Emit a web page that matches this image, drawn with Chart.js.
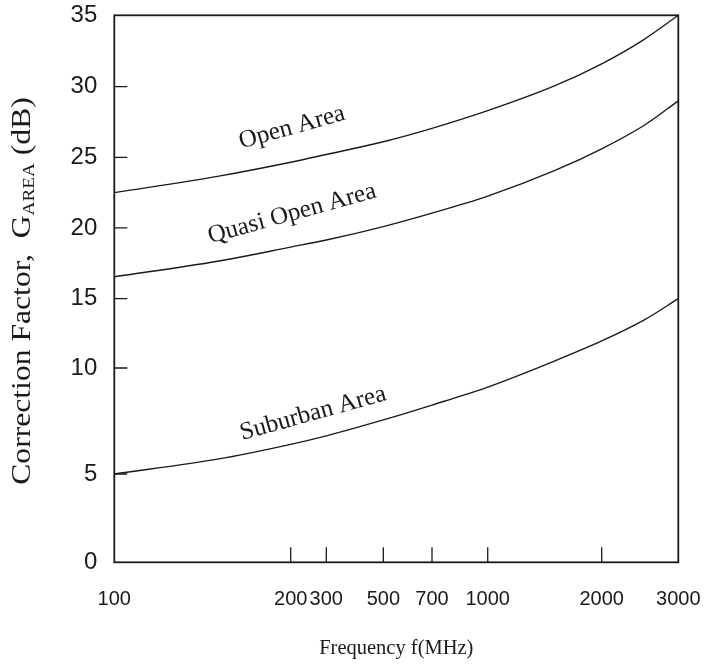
<!DOCTYPE html>
<html>
<head>
<meta charset="utf-8">
<script src="https://cdn.jsdelivr.net/npm/chart.js@4.4.1/dist/chart.umd.min.js"></script>
<style>
  html, body { margin: 0; padding: 0; background: #fff; }
  #wrap { position: relative; width: 710px; height: 668px; }
</style>
</head>
<body>
<div id="wrap"><canvas id="chart"></canvas></div>
<script>
const freqs = [100, 150, 200, 300, 500, 700, 1000, 1500, 2000, 2500, 3000];
const openArea  = [22.5, 23.65, 24.65, 25.2, 26.1, 27.05, 28.3, 30.05, 31.6, 33.3, 35];
const quasiOpen = [16.55, 17.65, 18.65, 19.15, 20.1, 21.05, 22.25, 24.05, 25.6, 27.25, 29];
const suburban  = [5, 5.7, 6.4, 6.8, 7.55, 8.25, 9.1, 10.5, 11.95, 13.45, 15];

const xTicks = [100, 200, 300, 500, 700, 1000, 2000, 3000];
const yTicks = [0, 5, 10, 15, 20, 25, 30, 35];

// curve names and where they sit (MHz, dB)
const curveLabels = [
  ['Open Area', 203, 27.1],
  ['Quasi Open Area', 203, 21.0],
  ['Suburban Area', 258, 7.85]
];

const SERIF = '"Liberation Serif", "DejaVu Serif", serif';
const SANS = '"Liberation Sans", Arial, sans-serif';
const INK = '#1a1a1a';

// the printed figure doesn't have evenly spaced gridding, so the axes are
// piecewise: each tick sits at a fixed fraction of the axis length
class StretchScale extends Chart.Scale {
  determineDataLimits() {
    const v = this.options.tickValues;
    this.min = v[0];
    this.max = v[v.length - 1];
  }
  buildTicks() {
    return this.options.tickValues.map(value => ({ value }));
  }
  getLabelForValue(value) {
    return String(value);
  }
  _f(v) {
    return this.options.logarithmic ? Math.log10(v) : v;
  }
  getPixelForValue(value) {
    const vals = this.options.tickValues, at = this.options.tickAt;
    let i = 1;
    while (i < vals.length - 1 && value > vals[i]) i++;
    const a = this._f(vals[i - 1]), b = this._f(vals[i]);
    const dec = at[i - 1] + (this._f(value) - a) / (b - a) * (at[i] - at[i - 1]);
    return this.getPixelForDecimal(dec);
  }
  getValueForPixel(pixel) {
    const vals = this.options.tickValues, at = this.options.tickAt;
    const dec = this.getDecimalForPixel(pixel);
    let i = 1;
    while (i < at.length - 1 && dec > at[i]) i++;
    const a = this._f(vals[i - 1]), b = this._f(vals[i]);
    const f = a + (dec - at[i - 1]) / (at[i] - at[i - 1]) * (b - a);
    return this.options.logarithmic ? Math.pow(10, f) : f;
  }
}
StretchScale.id = 'stretch';
StretchScale.defaults = {};
Chart.register(StretchScale);

// labels may hang past the plot edge, don't let them shrink the plot
const noOverhang = s => { s.paddingTop = 0; s.paddingRight = 0; s.paddingLeft = 0; s.paddingBottom = 0; };

const frame = {
  id: 'frame',
  afterDatasetsDraw(chart) {
    const { ctx, chartArea: a, scales } = chart;
    ctx.save();
    ctx.strokeStyle = INK;
    ctx.lineWidth = 1.3;
    ctx.beginPath();
    scales.x.ticks.slice(1, -1).forEach(t => {
      const px = scales.x.getPixelForValue(t.value);
      ctx.moveTo(px, a.bottom);
      ctx.lineTo(px, a.bottom - 15);
    });
    scales.y.ticks.slice(1, -1).forEach(t => {
      const py = scales.y.getPixelForValue(t.value);
      ctx.moveTo(a.left, py);
      ctx.lineTo(a.left + 13, py);
    });
    ctx.stroke();
    ctx.lineWidth = 1.8;
    ctx.strokeRect(a.left, a.top, a.right - a.left, a.bottom - a.top);

    // curve names
    ctx.fillStyle = INK;
    ctx.font = '25px ' + SERIF;
    ctx.textAlign = 'center';
    ctx.textBaseline = 'middle';
    curveLabels.forEach(([txt, f, db]) => {
      ctx.save();
      ctx.translate(scales.x.getPixelForValue(f), scales.y.getPixelForValue(db));
      ctx.rotate(-15.5 * Math.PI / 180);
      ctx.fillText(txt, 0, 0);
      ctx.restore();
    });

    // y title with subscript, a little stretched lengthwise like the print
    const big = '28px ' + SERIF, small = '17px ' + SERIF;
    const p1 = 'Correction Factor,  G', sub = 'AREA', p3 = ' (dB)';
    ctx.font = big;
    const w1 = ctx.measureText(p1).width, w3 = ctx.measureText(p3).width;
    ctx.font = small;
    const w2 = ctx.measureText(sub).width;
    ctx.translate(21, 291);
    ctx.rotate(-Math.PI / 2);
    ctx.scale(1.13, 1);
    ctx.textAlign = 'left';
    ctx.textBaseline = 'alphabetic';
    const x0 = -(w1 + w2 + w3) / 2;
    ctx.font = big;
    ctx.fillText(p1, x0, 9);
    ctx.font = small;
    ctx.fillText(sub, x0 + w1, 13);
    ctx.font = big;
    ctx.fillText(p3, x0 + w1 + w2, 9);
    ctx.restore();
  }
};

const pts = arr => freqs.map((f, i) => ({ x: f, y: arr[i] }));
const line = (label, arr) => ({
  label, data: pts(arr),
  borderColor: INK, borderWidth: 1.4,
  pointRadius: 0, fill: false,
  cubicInterpolationMode: 'monotone'
});

new Chart(document.getElementById('chart'), {
  type: 'line',
  data: {
    datasets: [
      line('Open Area', openArea),
      line('Quasi Open Area', quasiOpen),
      line('Suburban Area', suburban)
    ]
  },
  options: {
    responsive: true,
    maintainAspectRatio: false,
    animation: false,
    events: [],
    layout: { padding: { left: 0, top: 15.3, right: 31.7, bottom: 0 } },
    plugins: { legend: { display: false }, tooltip: { enabled: false } },
    scales: {
      x: {
        type: 'stretch',
        position: 'bottom',
        logarithmic: true,
        tickValues: xTicks,
        tickAt: [0, 0.3128, 0.3759, 0.4770, 0.5633, 0.6621, 0.8642, 1],
        grid: { display: false, drawTicks: false },
        border: { display: false },
        ticks: { font: { family: SANS, size: 20 }, color: INK, padding: 25, maxRotation: 0, autoSkip: false },
        title: { display: true, text: 'Frequency f(MHz)', font: { family: SERIF, size: 20.5 }, color: INK, padding: { top: 0, bottom: 7 } },
        afterFit: s => { s.height = 105.7; noOverhang(s); }
      },
      y: {
        type: 'stretch',
        position: 'left',
        tickValues: yTicks,
        tickAt: [0, 0.1614, 0.3552, 0.4819, 0.6112, 0.7404, 0.8695, 1],
        grid: { display: false, drawTicks: false },
        border: { display: false },
        ticks: { font: { family: SANS, size: 24 }, color: INK, padding: 17, autoSkip: false },
        afterFit: s => { s.width = 114.3; noOverhang(s); }
      }
    }
  },
  plugins: [frame]
});
</script>
</body>
</html>
